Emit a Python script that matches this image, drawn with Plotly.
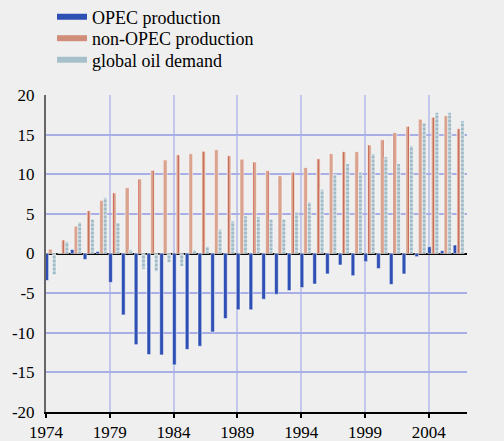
import plotly.graph_objects as go

years = list(range(1974, 2007))
opec = [-3.4, 0.0, 0.5, -0.75, 0.25, -3.65, -7.75, -11.5, -12.75, -12.8, -14.05,
        -12.1, -11.7, -9.9, -8.2, -7.1, -7.1, -5.77, -5.15, -4.68, -4.3, -3.85,
        -2.58, -1.45, -2.8, -1.03, -1.9, -3.9, -2.58, -0.4, 0.85, 0.35, 1.07]
non_opec = [0.55, 1.7, 3.45, 5.4, 6.7, 7.65, 8.3, 9.4, 10.5, 11.8, 12.45,
            12.6, 12.9, 13.1, 12.35, 11.9, 11.55, 10.45, 9.8, 10.25, 10.85, 11.95,
            12.6, 12.85, 12.85, 13.7, 14.35, 15.25, 16.05, 16.95, 17.2, 17.4, 15.75]
demand = [-2.7, 1.5, 3.97, 4.35, 7.07, 3.9, 0.5, -2.0, -2.3, -1.15, -1.65,
          0.45, 0.9, 3.05, 4.1, 4.75, 4.65, 4.35, 4.35, 5.2, 6.5, 8.1,
          9.95, 11.35, 10.25, 12.6, 12.2, 11.35, 13.6, 16.5, 17.8, 17.8, 16.75]
series_names = ["OPEC production", "non-OPEC production", "global oil demand"]
x_ticks = [1974, 1979, 1984, 1989, 1994, 1999, 2004]
y_ticks = [-20, -15, -10, -5, 0, 5, 10, 15, 20]

xpos = [y + 0.35 for y in years]
FONT = "Liberation Serif"
BLUE = "#2e4fb4"
SALMON = "#daa38f"
STRIPE_RED = "#b83a28"
LIGHT = "#c0d1d9"
STRIPE_TEAL = "#62909f"

fig = go.Figure()
fig.add_trace(go.Bar(
    x=xpos, y=opec, name=series_names[0], showlegend=False,
    marker=dict(color=BLUE, line=dict(color="white", width=0.5)),
))
fig.add_trace(go.Bar(
    x=xpos, y=non_opec, name=series_names[1], showlegend=False,
    marker=dict(color=SALMON, line=dict(color="white", width=0.5),
                pattern=dict(shape="|", fgcolor=STRIPE_RED, bgcolor=SALMON,
                             size=5, solidity=0.22)),
))
fig.add_trace(go.Bar(
    x=xpos, y=demand, name=series_names[2], showlegend=False,
    marker=dict(color=LIGHT, line=dict(color="white", width=0.5),
                pattern=dict(shape="-", fgcolor=STRIPE_TEAL, bgcolor=LIGHT,
                             size=4, solidity=0.35)),
))

# legend entries (line swatches, one legend per row)
legend_colors = [BLUE, "#d08d78", "#a6bfc9"]
legend_ids = ["legend", "legend2", "legend3"]
legend_rows = [17, 38.5, 60]
for name, col, lid in zip(series_names, legend_colors, legend_ids):
    fig.add_trace(go.Scatter(x=[None], y=[None], mode="lines", name=name,
                             line=dict(color=col, width=6), legend=lid,
                             showlegend=True, hoverinfo="skip"))

legend_common = dict(xref="container", yref="container", xanchor="left",
                     yanchor="middle", bgcolor="rgba(0,0,0,0)",
                     font=dict(family=FONT, size=18, color="black"),
                     itemwidth=30)
layout_legends = {}
for lid, row in zip(legend_ids, legend_rows):
    layout_legends[lid] = dict(legend_common, x=52 / 504, y=1 - row / 441)

fig.update_layout(
    width=504, height=441,
    barmode="group", bargap=0.13, bargroupgap=0,
    paper_bgcolor="#efefef", plot_bgcolor="#efefef",
    margin=dict(l=46, r=37, t=95, b=29, autoexpand=False),
    font=dict(family=FONT, size=17, color="black"),
    showlegend=True,
    xaxis=dict(range=[1974, 2007], tickvals=x_ticks, ticktext=[str(v) for v in x_ticks],
               showgrid=True, gridcolor="#c3c7ea", gridwidth=1.5,
               showline=True, linecolor="black", linewidth=1.5,
               ticks="outside", ticklen=4, tickcolor="black", tickwidth=1.5,
               zeroline=False, tickfont=dict(size=17), tickangle=0),
    yaxis=dict(range=[-20, 20], tickvals=y_ticks, ticktext=[str(v) for v in y_ticks],
               showgrid=True, gridcolor="#a9afe6", gridwidth=2,
               zeroline=True, zerolinecolor="black", zerolinewidth=2,
               showline=True, linecolor="#666666", linewidth=2,
               ticks="", ticklabelstandoff=6, tickfont=dict(size=17)),
    yaxis2=dict(range=[-20, 20], tickvals=y_ticks, ticktext=[str(v) for v in y_ticks],
                overlaying="y", side="right", matches="y", showgrid=False,
                zeroline=False, showline=True, linecolor="black", linewidth=1.5,
                ticks="", ticklabelstandoff=6, tickfont=dict(size=17)),
    **layout_legends,
)

fig.write_html(
    "out.html",
    config={"displayModeBar": False},
    post_script="document.body.style.margin='0';document.body.style.background='#efefef';",
)
